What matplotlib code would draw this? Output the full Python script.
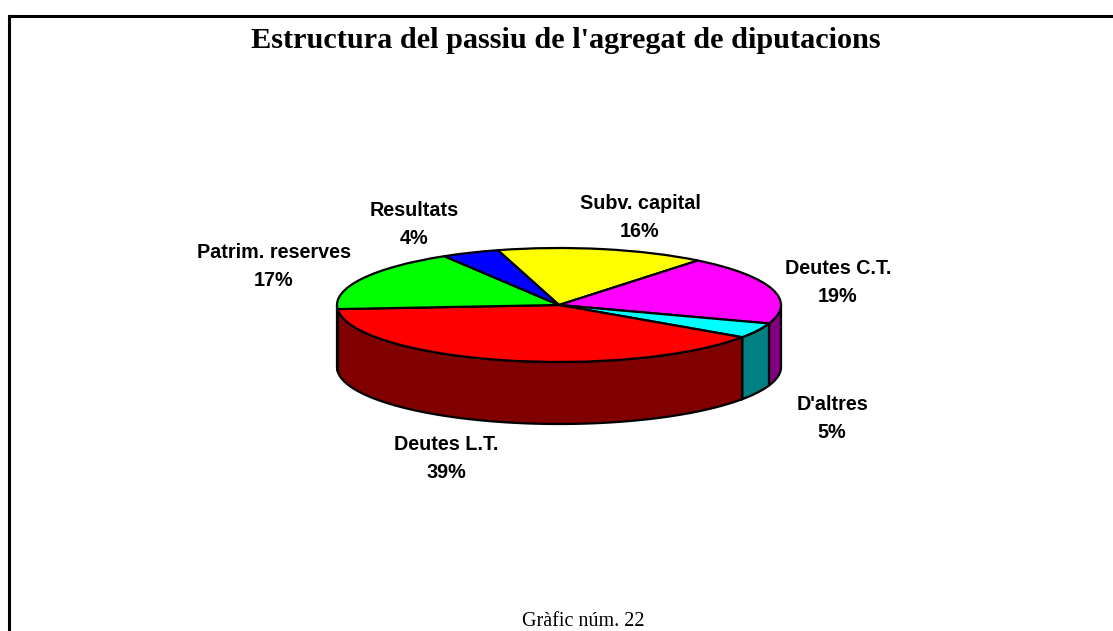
import numpy as np
import matplotlib
matplotlib.use("Agg")
from matplotlib import pyplot as plt
from matplotlib.lines import Line2D

W, H = 1113, 631

categories = ["Subv. capital", "Deutes C.T.", "D'altres", "Deutes L.T.", "Patrim. reserves", "Resultats"]
# printed percentages
pct_labels = [16, 19, 5, 39, 17, 4]
# slice shares as they look in the picture, the 3d tilt of the original distorts them
values = [15.2, 19.5, 4.3, 39.3, 17.5, 4.2]
top_colors = ["#ffff00", "#ff00ff", "#00ffff", "#ff0000", "#00ff00", "#0000ff"]
side_colors = ["#808000", "#800080", "#008080", "#800000", "#008000", "#000080"]

# label centres in pixels, same order as categories
label_pos = [(640, 218), (838, 283), (832, 418.5), (446, 459), (274, 266), (414, 224)]

# pie ellipse in pixels
cx, cy, rx, ry = 559, 305, 222, 57
depth = 62 / ry


def px(x, y):
    return x / W, 1 - y / H


fig = plt.figure(figsize=(W / 100, H / 100), dpi=100)
xlim = (-1.3, 1.3)
ylim = (-2.5, 1.3)
ax = fig.add_axes([(cx + xlim[0] * rx) / W, 1 - (cy - ylim[0] * ry) / H,
                   (xlim[1] - xlim[0]) * rx / W, (ylim[1] - ylim[0]) * ry / H])

wedges, _ = ax.pie(values, startangle=106, counterclock=False, colors=top_colors, radius=1,
                   wedgeprops=dict(edgecolor="black", linewidth=1.6, zorder=3))
ax.set_aspect("auto")
ax.set_xlim(xlim)
ax.set_ylim(ylim)

# side wall, only the part of each slice facing the viewer
for w, c in zip(wedges, side_colors):
    t1, t2 = w.theta1 % 360, w.theta2 % 360
    if t2 <= t1:
        t2 += 360
    for lo, hi in [(180, 360), (540, 720)]:
        a, b = max(t1, lo), min(t2, hi)
        if b <= a:
            continue
        t = np.radians(np.linspace(a, b, 100))
        xs = np.cos(t)
        ys = np.sin(t)
        ax.fill(np.r_[xs, xs[::-1]], np.r_[ys, ys[::-1] - depth], facecolor=c,
                edgecolor="black", linewidth=1.6, zorder=2)

for name, v, (x, y) in zip(categories, pct_labels, label_pos):
    fx, fy = px(x, y)
    fig.text(fx, fy, "{}\n{}%".format(name, v), ha="center", va="center", fontsize=14.2,
             fontweight="bold", family="Liberation Sans", linespacing=1.6, color="black")

fig.text(*px(566, 41), "Estructura del passiu de l'agregat de diputacions", ha="center", va="center",
         fontsize=21.8, fontweight="bold", family="Liberation Serif")
fig.text(*px(583, 621), "Gràfic núm. 22", ha="center", va="center", fontsize=14.5, family="Liberation Serif")

# frame: top and left only, the rest is cut off
fig.add_artist(Line2D([8.5 / W, 8.5 / W], [0, 1 - 15.5 / H], color="black", linewidth=2.2,
                      solid_capstyle="projecting"))
fig.add_artist(Line2D([8.5 / W, 1], [1 - 15.5 / H, 1 - 15.5 / H], color="black", linewidth=2.2,
                      solid_capstyle="projecting"))

fig.savefig("out.png", dpi=100)
